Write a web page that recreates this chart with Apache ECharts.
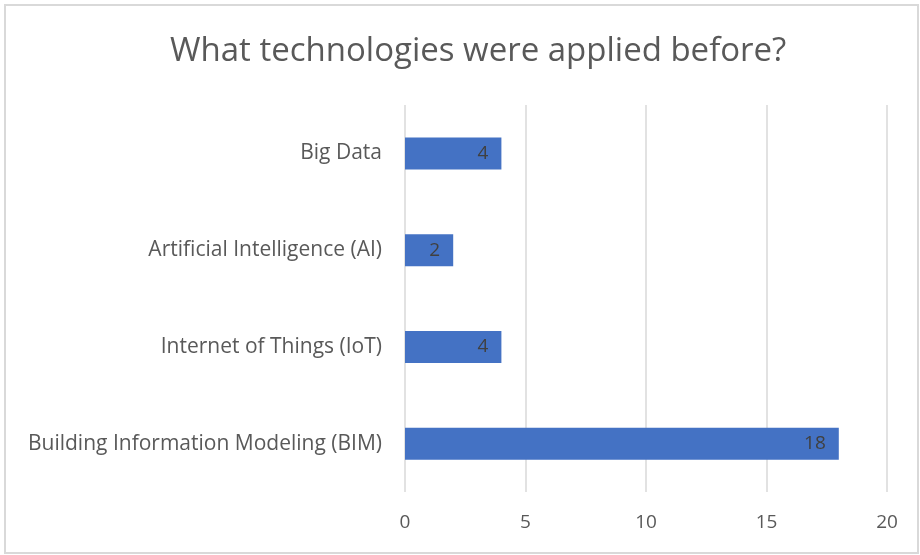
<!DOCTYPE html>
<html>
<head>
<meta charset="utf-8">
<script src="https://cdn.jsdelivr.net/npm/echarts@6/dist/echarts.min.js"></script>
<style>
  html, body { margin: 0; padding: 0; background: #fff; }
  #frame { position: absolute; left: 4px; top: 4px; width: 911px; height: 546px; border: 2px solid #d9d9d9; }
  #chart { position: absolute; left: 0; top: 0; width: 920px; height: 555px; }
</style>
</head>
<body>
<div id="frame"></div>
<div id="chart"></div>
<script>
var categories = ['Building Information Modeling (BIM)', 'Internet of Things (IoT)', 'Artificial Intelligence (AI)', 'Big Data'];
var counts = [18, 4, 2, 4];
var xTicks = [0, 5, 10, 15, 20];

var font = '"Open Sans", sans-serif';
var chart = echarts.init(document.getElementById('chart'));
chart.setOption({
    animation: false,
    title: {
        text: 'What technologies were applied before?',
        left: 165,
        top: 30,
        textStyle: { fontFamily: font, fontSize: 33, fontWeight: 'normal', color: '#595959' }
    },
    grid: { left: 405, right: 33, top: 105, bottom: 63 },
    xAxis: {
        type: 'value',
        min: xTicks[0],
        max: xTicks[xTicks.length - 1],
        interval: 5,
        axisLine: { show: false },
        axisTick: { show: false },
        axisLabel: { fontFamily: font, fontSize: 19, color: '#595959', margin: 21 },
        splitLine: { show: true, lineStyle: { color: '#d9d9d9', width: 1.5 } }
    },
    yAxis: {
        type: 'category',
        data: categories,
        axisLine: { show: false },
        axisTick: { show: false },
        axisLabel: { fontFamily: font, fontSize: 21, color: '#595959', margin: 23 }
    },
    series: [{
        type: 'bar',
        data: counts,
        barWidth: 32,
        itemStyle: { color: '#4472C4' },
        label: {
            show: true,
            position: 'insideRight',
            distance: 13,
            fontFamily: font,
            fontSize: 19,
            color: '#404040'
        }
    }]
});
</script>
</body>
</html>
